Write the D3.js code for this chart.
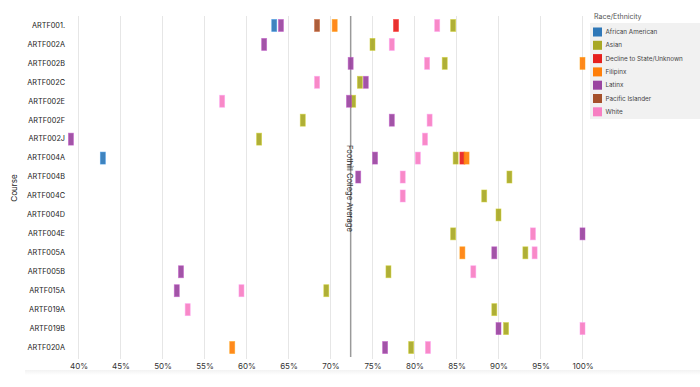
<!DOCTYPE html>
<html>
<head>
<meta charset="utf-8">
<script src="https://cdn.jsdelivr.net/npm/d3@7"></script>
<style>
  html, body { margin: 0; padding: 0; background: #fff; }
  svg { display: block; font-family: Inter, "Liberation Sans", Arial, sans-serif; }
</style>
</head>
<body>
<svg id="chart" width="700" height="387"></svg>
<script>
const courses = ["ARTF001.", "ARTF002A", "ARTF002B", "ARTF002C", "ARTF002E", "ARTF002F", "ARTF002J",
  "ARTF004A", "ARTF004B", "ARTF004C", "ARTF004D", "ARTF004E", "ARTF005A", "ARTF005B",
  "ARTF015A", "ARTF019A", "ARTF019B", "ARTF020A"];

const groups = ["African American", "Asian", "Decline to State/Unknown", "Filipinx", "Latinx", "Pacific Islander", "White"];
const groupColors = ["#2f78b8", "#a8a826", "#e6201d", "#ff7f0a", "#9a45a0", "#a5502a", "#f77fc2"];

const xTicks = [40, 45, 50, 55, 60, 65, 70, 75, 80, 85, 90, 95, 100];
const collegeAverage = 72.4;

// values per group, aligned with courses (null = no value)
const africanAmerican = [63.3, null, null, null, null, null, null, 42.9, null, null, null, null, null, null, null, null, null, null];
const asian =           [84.6, 75.0, 83.6, 73.5, 72.7, 66.7, 61.5, 84.9, 91.3, 88.3, 90.0, 84.6, 93.2, 76.9, 69.5, 89.5, 90.9, 79.6];
const declineUnknown =  [77.8, null, null, null, null, null, null, 85.7, null, null, null, null, null, null, null, null, null, null];
const filipinx =        [70.5, null, 100.0, null, null, null, null, 86.2, null, null, null, null, 85.7, null, null, null, null, 58.3];
const latinx =          [64.1, 62.1, 72.4, 74.2, 72.2, 77.3, 39.1, 75.3, 73.3, null, null, 100.0, 89.5, 52.2, 51.7, null, 90.0, 76.5];
const pacificIslander = [68.4, null, null, null, null, null, null, null, null, null, null, null, null, null, null, null, null, null];
const white =           [82.7, 77.3, 81.5, 68.4, 57.1, 81.8, 81.25, 80.4, 78.6, 78.6, null, 94.1, 94.3, 87.0, 59.4, 53.0, 100.0, 81.6];

const seriesValues = [africanAmerican, asian, declineUnknown, filipinx, latinx, pacificIslander, white];

const points = [];
seriesValues.forEach((arr, gi) => {
  arr.forEach((v, ci) => {
    if (v !== null) points.push({ course: courses[ci], group: groups[gi], value: v });
  });
});

const svg = d3.select("#chart");
const plotTop = 16, plotBottom = 357;

const x = d3.scaleLinear().domain([40, 100]).range([78.5, 582.5]);
const y = d3.scaleBand().domain(courses).range([plotTop, plotBottom]).padding(0);
const color = d3.scaleOrdinal().domain(groups).range(groupColors);

// bottom shadow band
const defs = svg.append("defs");
const grad = defs.append("linearGradient").attr("id", "shadow").attr("x1", 0).attr("x2", 0).attr("y1", 0).attr("y2", 1);
grad.append("stop").attr("offset", "0%").attr("stop-color", "#f2f2f2");
grad.append("stop").attr("offset", "100%").attr("stop-color", "#ffffff");
svg.append("rect").attr("x", 25).attr("y", 370).attr("width", 675).attr("height", 5).attr("fill", "url(#shadow)");

// gridlines
svg.append("g").selectAll("line").data(xTicks).join("line")
  .attr("x1", d => x(d)).attr("x2", d => x(d))
  .attr("y1", plotTop).attr("y2", plotBottom + 2)
  .attr("stroke", "#e6e6e6").attr("stroke-width", 1);

// x axis
const xAxis = d3.axisBottom(x).tickValues(xTicks).tickFormat(d => d + "%").tickSize(0).tickPadding(0);
const gx = svg.append("g").attr("transform", `translate(0, ${plotBottom + 6})`).call(xAxis);
gx.select(".domain").remove();
gx.selectAll("text").attr("font-size", 8).attr("fill", "#333").attr("dy", "0.71em")
  .attr("font-family", "Inter, 'Liberation Sans', Arial, sans-serif");

// y axis
const yAxis = d3.axisLeft(y).tickSize(0).tickPadding(0);
const gy = svg.append("g").attr("transform", `translate(65, 0)`).call(yAxis);
gy.select(".domain").remove();
gy.selectAll("text").attr("font-size", 7.3).attr("fill", "#222")
  .attr("font-family", "Inter, 'Liberation Sans', Arial, sans-serif");

// y title
svg.append("text").attr("transform", "translate(17, 188) rotate(-90)")
  .attr("text-anchor", "middle").attr("font-size", 8).attr("fill", "#222").text("Course");

// average line
svg.append("line").attr("x1", x(collegeAverage)).attr("x2", x(collegeAverage))
  .attr("y1", plotTop).attr("y2", plotBottom)
  .attr("stroke", "#9a9a9a").attr("stroke-width", 1.5);
svg.append("text")
  .attr("transform", `translate(${x(collegeAverage) + 2}, 145) rotate(90)`)
  .attr("font-size", 7.6).attr("fill", "#222").attr("dominant-baseline", "hanging")
  .text("Foothill College Average");

// bars
const bw = 5, bh = 12;
svg.append("g").selectAll("rect").data(points).join("rect")
  .attr("x", d => x(d.value) - bw / 2)
  .attr("y", d => y(d.course) + y.bandwidth() / 2 - bh / 2)
  .attr("width", bw).attr("height", bh)
  .attr("fill", d => color(d.group))
  .attr("fill-opacity", 0.92)
  .attr("stroke", d => d3.color(color(d.group)).brighter(0.6))
  .attr("stroke-opacity", 0.6)
  .attr("stroke-width", 0.8);

// legend
const lg = svg.append("g");
lg.append("text").attr("x", 594).attr("y", 19).attr("font-size", 7).attr("fill", "#555").text("Race/Ethnicity");
lg.append("rect").attr("x", 590).attr("y", 23).attr("width", 110).attr("height", 96).attr("fill", "#f1f1f1");
const items = lg.selectAll("g.item").data(groups).join("g").attr("class", "item")
  .attr("transform", (d, i) => `translate(593, ${27.5 + i * 13.3})`);
items.append("rect").attr("width", 9).attr("height", 9).attr("fill", d => color(d));
items.append("text").attr("x", 12.5).attr("y", 4.5).attr("dominant-baseline", "central")
  .attr("font-size", 6.3).attr("fill", "#444").text(d => d);
</script>
</body>
</html>
